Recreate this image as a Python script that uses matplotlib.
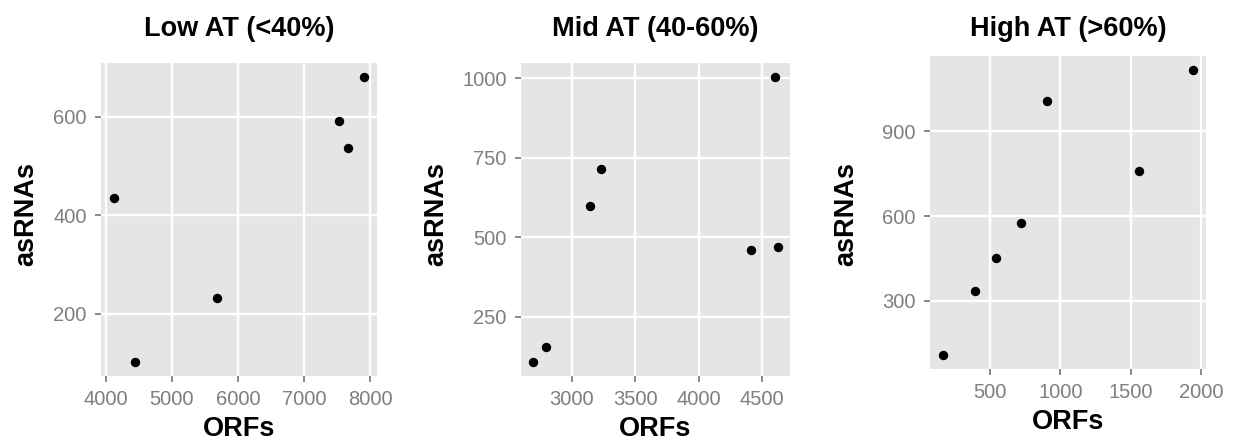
import matplotlib
matplotlib.use("Agg")
import matplotlib.pyplot as plt

plt.rcParams["font.family"] = ["Liberation Sans", "DejaVu Sans"]

# Datos
titles = ["Low AT (<40%)", "Mid AT (40-60%)", "High AT (>60%)"]

low_orfs = [4116, 4444, 5682, 7535, 7671, 7914]
low_asrnas = [435, 103, 232, 592, 536, 680]

mid_orfs = [2695, 2792, 3140, 3232, 4408, 4598, 4622]
mid_asrnas = [109, 155, 600, 714, 460, 1004, 469]

high_orfs = [160, 389, 538, 721, 907, 1561, 1947]
high_asrnas = [108, 334, 450, 575, 1007, 759, 1117]

xticks = [[4000, 5000, 6000, 7000, 8000],
          [3000, 3500, 4000, 4500],
          [500, 1000, 1500, 2000]]
yticks = [[200, 400, 600],
          [250, 500, 750, 1000],
          [300, 600, 900]]

W, H = 1236, 442
# posiciones de los paneles en pixeles (izq, der, arriba, abajo)
boxes = [(101, 377, 63, 376), (521, 790, 63, 376), (930, 1206, 56, 369)]
# borde derecho de la etiqueta "asRNAs" en pixeles
ylab_x = [39.5, 449.5, 859.5]

fig = plt.figure(figsize=(W / 100, H / 100), dpi=100)

series = [(low_orfs, low_asrnas), (mid_orfs, mid_asrnas), (high_orfs, high_asrnas)]

for i, (xs, ys) in enumerate(series):
    l, r, t, b = boxes[i]
    ax = fig.add_axes([l / W, 1 - b / H, (r - l) / W, (b - t) / H])
    ax.set_facecolor("#E5E5E5")
    for s in ax.spines.values():
        s.set_visible(False)
    ax.grid(True, color="white", linewidth=1.7)
    ax.set_axisbelow(True)
    ax.scatter(xs, ys, s=46, color="black", zorder=3, linewidths=0)
    ax.margins(0.05)
    ax.set_xticks(xticks[i])
    ax.set_yticks(yticks[i])
    ax.tick_params(colors="#7F7F7F", labelsize=14.5, length=4.3, width=1.3, pad=6)
    ax.set_xlabel("ORFs", fontsize=19.5, fontweight="bold", labelpad=5)
    ax.set_ylabel("asRNAs", fontsize=19.5, fontweight="bold")
    ax.yaxis.set_label_coords((ylab_x[i] - l) / (r - l), (b - 213.5) / (b - t))
    # titulo centrado sobre el panel
    fig.text((l + r) / 2 / W, 1 - 36 / H, titles[i], ha="center", va="baseline",
             fontsize=19.5, fontweight="bold")

plt.savefig("out.png", dpi=100)
